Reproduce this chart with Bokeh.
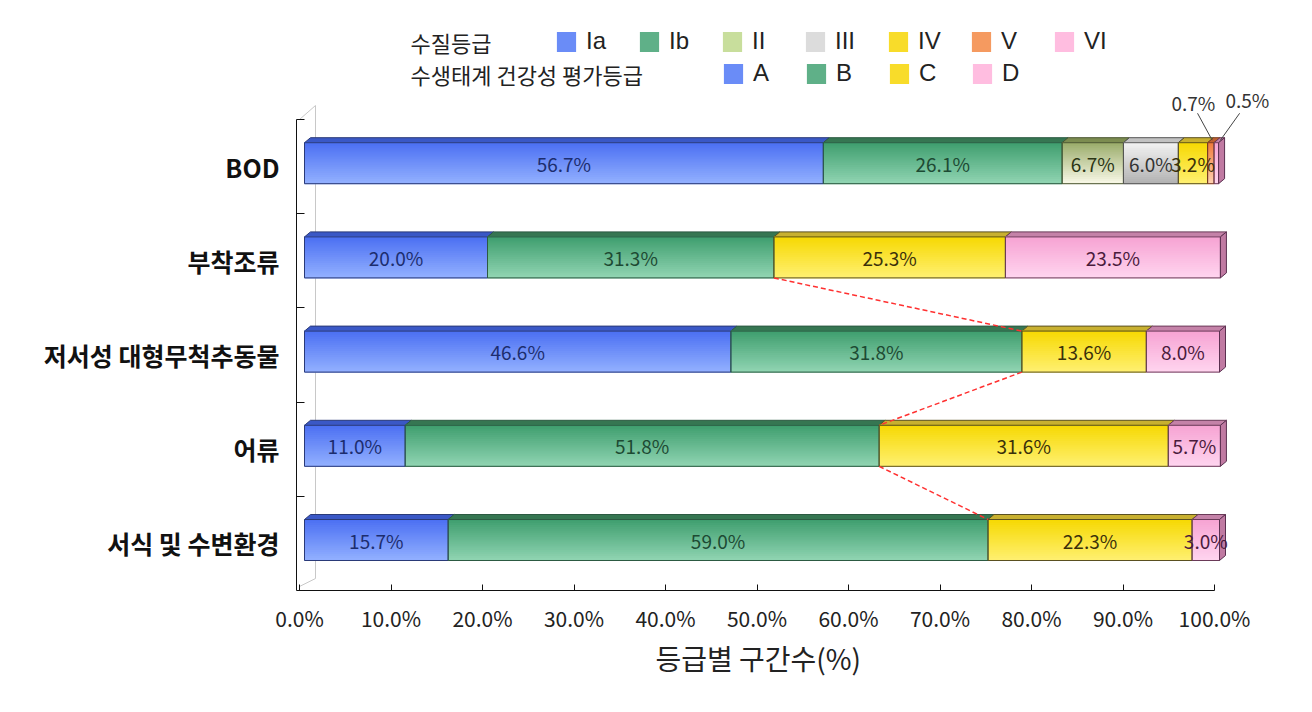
import numpy as np
from bokeh.plotting import figure
from bokeh.models import (Range1d, FixedTicker, ColumnDataSource, Legend,
                          LegendItem, Label, Title)
from bokeh.embed import file_html
from bokeh.resources import INLINE
from bokeh.core.properties import value

# ---------------- data ----------------
categories = ["BOD", "부착조류", "저서성 대형무척추동물", "어류", "서식 및 수변환경"]
bod_grades = ["Ia", "Ib", "II", "III", "IV", "V", "VI"]
bod_values = [56.7, 26.1, 6.7, 6.0, 3.2, 0.7, 0.5]
eco_grades = ["A", "B", "C", "D"]
algae_values = [20.0, 31.3, 25.3, 23.5]
benthic_values = [46.6, 31.8, 13.6, 8.0]
fish_values = [11.0, 51.8, 31.6, 5.7]
habitat_values = [15.7, 59.0, 22.3, 3.0]
x_ticks = [0, 10, 20, 30, 40, 50, 60, 70, 80, 90, 100]
x_tick_labels = ["0.0%", "10.0%", "20.0%", "30.0%", "40.0%", "50.0%",
                 "60.0%", "70.0%", "80.0%", "90.0%", "100.0%"]
legend_title_1 = "수질등급"
legend_title_2 = "수생태계 건강성 평가등급"
x_title = "등급별 구간수(%)"

# ---------------- styles ----------------
# grade: (front top colour, front bottom colour, cap colour, outline, text colour, swatch)
STY = {
    "Ia":  ("#4a6ef2", "#92b0ff", "#3a58c6", "#2a3a78", "#1c2d6e", "#6a8cf7"),
    "Ib":  ("#3d9d6d", "#90d4b2", "#367652", "#2c5a42", "#1d4a33", "#5fb088"),
    "II":  ("#98aa68", "#f8f8e6", "#7c8c50", "#4a5530", "#2b3515", "#c8de9c"),
    "III": ("#f4f4f4", "#b2b2b2", "#c2c2c2", "#555555", "#333333", "#dcdcdc"),
    "IV":  ("#f6d800", "#fff070", "#c8b030", "#5a5020", "#3a300a", "#f8dc2a"),
    "V":   ("#f07a3a", "#ffd0b0", "#c06030", "#7a3a20", "#3a2010", "#f59a60"),
    "VI":  ("#f6a2d2", "#ffd4ef", "#c482a8", "#6a3a58", "#4a1a3c", "#ffbde0"),
}
STY["A"] = STY["Ia"]
STY["B"] = STY["Ib"]
STY["C"] = STY["IV"]
STY["D"] = STY["VI"]
SIDE = "#c07aa2"

FONT = "Noto Sans CJK KR"
LFONT = "Liberation Sans"

rows = [
    (categories[0], bod_grades, bod_values),
    (categories[1], eco_grades, algae_values),
    (categories[2], eco_grades, benthic_values),
    (categories[3], eco_grades, fish_values),
    (categories[4], eco_grades, habitat_values),
]
n = len(rows)

# ---------------- figure / layout ----------------
PXX = 9.15      # px per percent
PXY = 94.2      # px per category slot
FW, FH = 990, 574
x0 = -3 / PXX
y_shift = 3.4 / PXY

p = figure(width=1296, height=696, output_backend="svg", toolbar_location=None,
           x_range=Range1d(x0, x0 + FW / PXX), y_range=Range1d(0, FH / PXY),
           min_border_left=296, min_border_right=10, min_border_top=16,
           min_border_bottom=106)
p.extra_x_ranges = {"bars": Range1d(-8 / PXX, -8 / PXX + FW / PXX)}
p.extra_y_ranges = {"bars": Range1d(-y_shift, FH / PXY - y_shift)}
p.outline_line_color = None
p.xgrid.visible = False
p.ygrid.visible = False
p.background_fill_color = "white"
p.border_fill_color = "white"

# axes
xa = p.xaxis[0]
xa.ticker = FixedTicker(ticks=x_ticks)
xa.major_label_overrides = {t: l for t, l in zip(x_ticks, x_tick_labels)}
xa.bounds = (0, 100)
xa.major_tick_in = 6
xa.major_tick_out = 0
xa.minor_tick_line_color = None
xa.axis_line_color = "#111111"
xa.major_tick_line_color = "#111111"
xa.major_label_text_font = FONT
xa.major_label_text_font_size = "21px"
xa.major_label_text_color = "#222222"
xa.major_label_standoff = 12

ya = p.yaxis[0]
centers = [n - 1 - i + 0.5 for i in range(n)]
ya.ticker = FixedTicker(ticks=centers, minor_ticks=list(range(n + 1)))
ya.major_label_overrides = {c: r[0] for c, r in zip(centers, rows)}
ya.bounds = (0, n)
ya.major_tick_in = 0
ya.major_tick_out = 0
ya.minor_tick_in = 8
ya.minor_tick_out = 0
ya.minor_tick_line_color = "#111111"
ya.axis_line_color = "#111111"
ya.major_label_text_font = FONT
ya.major_label_text_font_size = "25px"
ya.major_label_text_font_style = "bold"
ya.major_label_text_color = "#111111"
ya.major_label_standoff = 17

# x-axis title, placed under the 0-100 span
p.add_layout(Title(text=x_title, align="left", offset=359, standoff=0,
                   text_font=FONT, text_font_size="28px", text_font_style="normal",
                   text_color="#222222"), "below")

# 3D back wall hints
wall = 16 / PXX
p.line([wall, wall], [12 / PXY, (590 - 105) / PXY], line_color="#c8c8c8", line_width=1)
p.line([0, wall], [n, (590 - 105) / PXY], line_color="#c8c8c8", line_width=1)
p.line([0, wall], [4 / PXY, 12 / PXY], line_color="#c8c8c8", line_width=1)

# ---------------- bars ----------------
H = 41 / PXY
DX = 6 / PXX
DY = 5 / PXY
NS = 20


def mix(c1, c2, t):
    a = np.array([int(c1[i:i + 2], 16) for i in (1, 3, 5)], float)
    b = np.array([int(c2[i:i + 2], 16) for i in (1, 3, 5)], float)
    c = a + (b - a) * t
    return "#%02x%02x%02x" % tuple(int(round(v)) for v in c)


base = dict(y=[], left=[], right=[], fill=[], grade=[])
strip = dict(y=[], left=[], right=[], h=[], color=[])
outl = dict(y=[], left=[], right=[], line=[])
caps = dict(xs=[], ys=[], color=[], line=[])
sides = dict(xs=[], ys=[])
lab = dict(x=[], y=[], text=[], color=[])
cstarts = []

for i, (cat, grades, vals) in enumerate(rows):
    yc = centers[i]
    cum = np.cumsum(vals)
    lefts = cum - np.array(vals)
    yt, yb = yc + H / 2, yc - H / 2
    for g, v, l, r in zip(grades, vals, lefts, cum):
        top, bot, cap, line, tcol, sw = STY[g]
        base["y"].append(yc)
        base["left"].append(l)
        base["right"].append(r)
        base["fill"].append(sw)
        base["grade"].append(g)
        for k in range(NS):
            t = (k + 0.5) / NS
            strip["y"].append(yt - t * H)
            strip["left"].append(l)
            strip["right"].append(r)
            strip["h"].append(H / NS * 1.6)
            strip["color"].append(mix(top, bot, t))
        outl["y"].append(yc)
        outl["left"].append(l)
        outl["right"].append(r)
        outl["line"].append(line)
        caps["xs"].append([l, r, r + DX, l + DX])
        caps["ys"].append([yt, yt, yt + DY, yt + DY])
        caps["color"].append(cap)
        caps["line"].append(line)
        if v >= 1:
            lab["x"].append((l + r) / 2)
            lab["y"].append(yc)
            lab["text"].append(f"{v:.1f}%")
            lab["color"].append(tcol)
    r_end = cum[-1]
    sides["xs"].append([r_end, r_end + DX, r_end + DX, r_end])
    sides["ys"].append([yb, yb + DY, yt + DY, yt])
    if grades is eco_grades:
        cstarts.append((lefts[2], yt, yb))

kw = dict(x_range_name="bars", y_range_name="bars")
p.patches("xs", "ys", source=ColumnDataSource(caps), fill_color="color",
          line_color="line", line_width=1, **kw)
base_r = p.hbar(y="y", left="left", right="right", height=H,
                source=ColumnDataSource(base), fill_color="fill", line_color=None, **kw)
p.hbar(y="y", left="left", right="right", height="h", source=ColumnDataSource(strip),
       fill_color="color", line_color=None, **kw)
p.hbar(y="y", left="left", right="right", height=H, source=ColumnDataSource(outl),
       fill_color=None, line_color="line", line_width=1, **kw)
p.patches("xs", "ys", source=ColumnDataSource(sides), fill_color=SIDE,
          line_color="#5a3050", line_width=1, **kw)
p.text("x", "y", "text", source=ColumnDataSource(lab), text_color="color",
       text_align="center", text_baseline="middle", text_font=value(FONT),
       text_font_size="19px", **kw)

# series lines between C starts
sx0, sy0, sx1, sy1 = [], [], [], []
for a, b in zip(cstarts[:-1], cstarts[1:]):
    sx0.append(a[0]); sy0.append(a[2])
    sx1.append(b[0]); sy1.append(b[1])
p.segment(sx0, sy0, sx1, sy1, line_color="#ff3030", line_width=1.5,
          line_dash="5 3", **kw)

# callouts for the two tiny BOD segments
bod_cum = np.cumsum(bod_values)
bod_left = bod_cum - np.array(bod_values)
small = [5, 6]
ann_dx = [-1.9, 3.4]
ann_dy = [0.64, 0.68]
lead_top_dx = [-1.45, 2.55]
lead_end_dx = [0.15, 0.45]
byt = centers[0] + H / 2 + DY / 2
for j, dxa, dya, ltd, led in zip(small, ann_dx, ann_dy, lead_top_dx, lead_end_dx):
    cx = (bod_left[j] + bod_cum[j]) / 2
    p.text([cx + dxa], [centers[0] + dya], [f"{bod_values[j]:.1f}%"],
           text_align="center", text_baseline="middle",
           text_font=value(FONT), text_font_size="19px", text_color="#333333", **kw)
    p.segment([cx + ltd], [centers[0] + 0.53], [cx + led], [byt],
              line_color="#444444", line_width=1, **kw)

# ---------------- legends ----------------
def first_index(g):
    return base["grade"].index(g)


leg_common = dict(orientation="horizontal", glyph_width=24, glyph_height=25,
                  label_standoff=8, label_width=51, label_height=25, spacing=0,
                  padding=0, margin=0, border_line_color=None,
                  background_fill_alpha=0, label_text_font=LFONT,
                  label_text_font_size="24px", label_text_color="#222222",
                  label_text_baseline="middle")
items1 = [LegendItem(label=g, renderers=[base_r], index=first_index(g)) for g in bod_grades]
items2 = [LegendItem(label=g, renderers=[base_r], index=first_index(g)) for g in eco_grades]
p.add_layout(Legend(items=items1, location=(258, 535), **leg_common))
p.add_layout(Legend(items=items2, location=(425, 503), **leg_common))

for txt, yy in ((legend_title_1, 549), (legend_title_2, 517)):
    p.add_layout(Label(x=114, y=yy, x_units="screen", y_units="screen", text=txt,
                       text_baseline="middle", text_font=FONT,
                       text_font_size="22px", text_color="#222222"))

open("out.html", "w").write(file_html(p, INLINE))
